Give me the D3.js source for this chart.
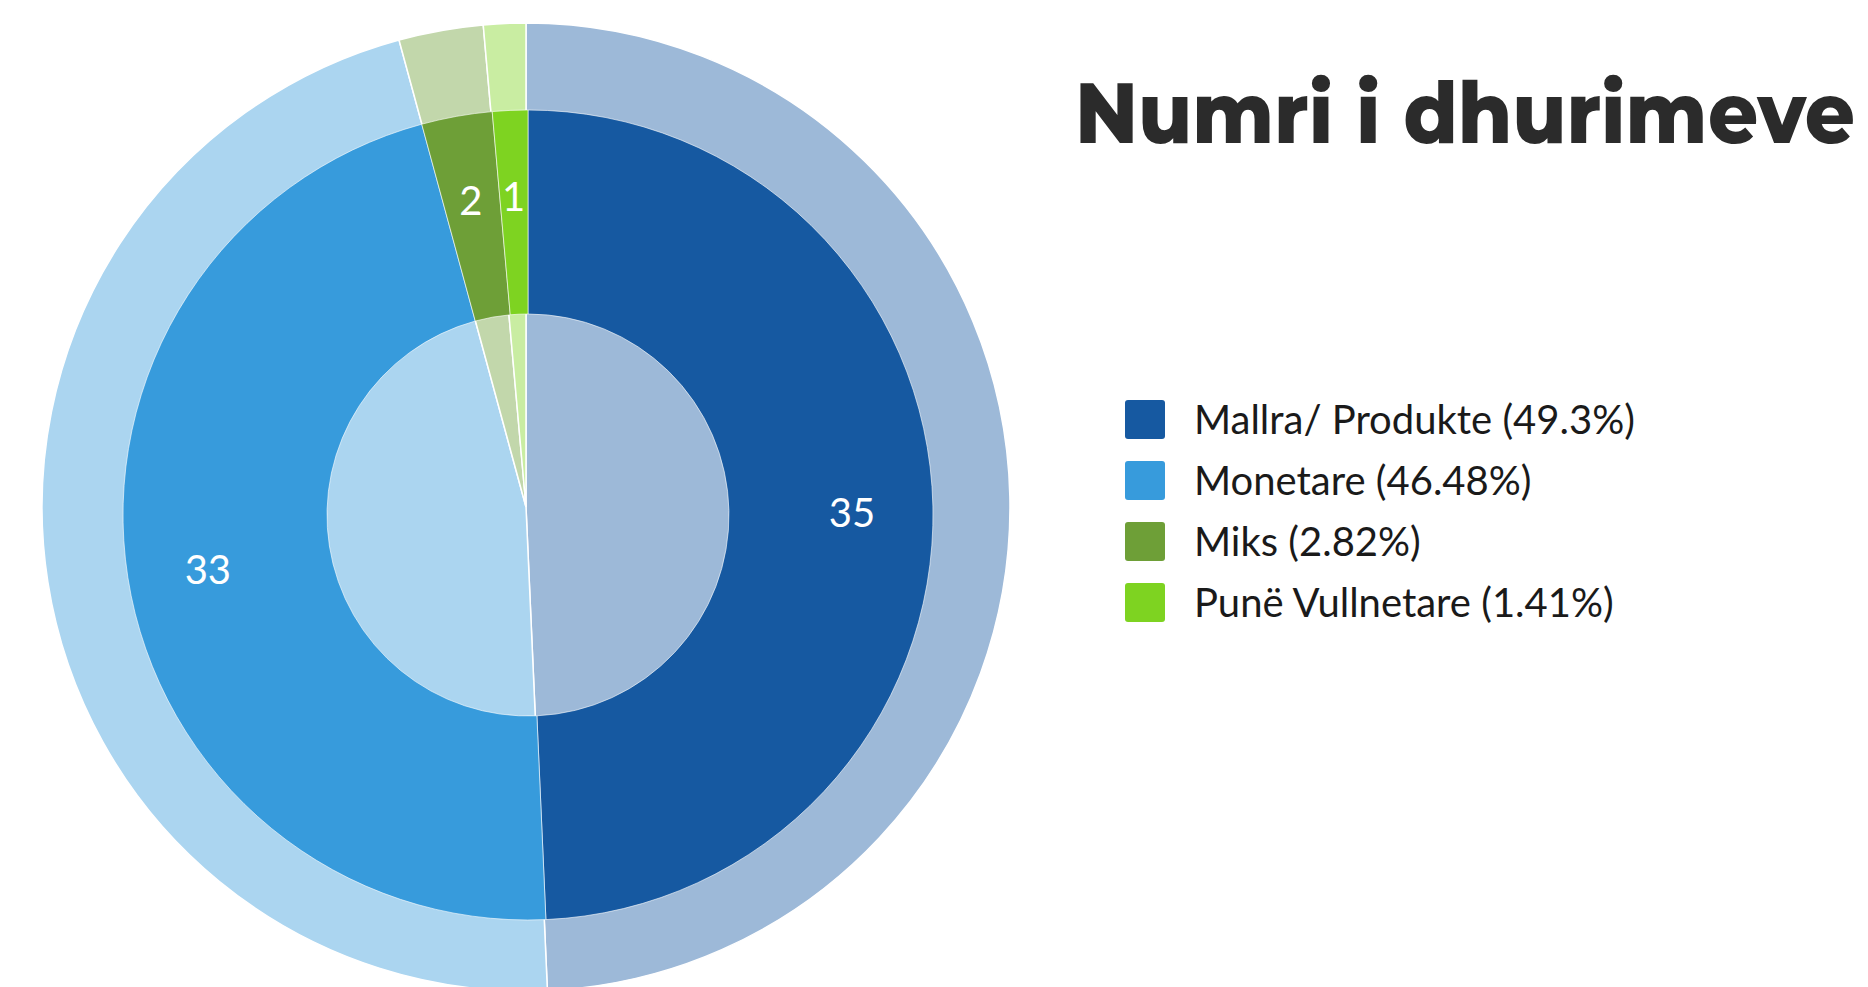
<!DOCTYPE html>
<html>
<head>
<meta charset="utf-8">
<script src="https://cdn.jsdelivr.net/npm/d3@7"></script>
<style>
  html, body { margin: 0; padding: 0; background: #fff; overflow: hidden; }
  svg { display: block; }
</style>
</head>
<body>
<div id="chart"></div>
<script>
// Data
const categories = ['Mallra/ Produkte', 'Monetare', 'Miks', 'Punë Vullnetare'];
const values = [35, 33, 2, 1];
const colors = ['#1659a1', '#379bdc', '#6e9f37', '#7ed321'];
const title = 'Numri i dhurimeve';

const width = 1868;
const height = 987;

const svg = d3.select('#chart').append('svg')
    .attr('width', width)
    .attr('height', height);

const total = d3.sum(values);
const pie = d3.pie().sort(null).value(d => d.value);
const slices = pie(categories.map((c, i) => ({ name: c, value: values[i], color: colors[i] })));

// Faded background pie (slightly offset)
const bg = svg.append('g').attr('transform', 'translate(526,507)');
const bgArc = d3.arc().innerRadius(0).outerRadius(484);
bg.selectAll('path')
    .data(slices)
    .join('path')
    .attr('d', bgArc)
    .attr('fill', d => d.data.color)
    .attr('fill-opacity', 0.42)
    .attr('stroke', '#fff')
    .attr('stroke-width', 1.5);

// Main donut
const donut = svg.append('g').attr('transform', 'translate(528,515)');
const arc = d3.arc().innerRadius(201).outerRadius(405);
donut.selectAll('path')
    .data(slices)
    .join('path')
    .attr('d', arc)
    .attr('fill', d => d.data.color)
    .attr('stroke', 'rgba(255,255,255,0.6)')
    .attr('stroke-width', 1);

// Value labels
const labelArc = d3.arc().innerRadius(324).outerRadius(324);
donut.selectAll('text')
    .data(slices)
    .join('text')
    .attr('transform', d => `translate(${labelArc.centroid(d)})`)
    .attr('text-anchor', 'middle')
    .attr('dy', '0.48em')
    .style('font-family', 'Lato, sans-serif')
    .style('font-size', '40px')
    .style('fill', '#fff')
    .text(d => d.data.value);

// Title
const titleText = svg.append('text')
    .attr('x', 0)
    .attr('y', 0)
    .attr('transform', 'translate(1075,143) scale(1,1.08)')
    .style('font-family', 'Montserrat, Inter, sans-serif')
    .style('font-weight', 800)
    .style('font-size', '84px')
    .style('fill', '#2b2b2b')
    .text(title);
const tw = titleText.node().getComputedTextLength();
titleText.style('font-size', (84 * 780 / tw) + 'px');

// Legend
const legend = svg.append('g').attr('transform', 'translate(1125,400)');
const rows = legend.selectAll('g')
    .data(slices)
    .join('g')
    .attr('transform', (d, i) => `translate(0,${i * 61})`);

rows.append('rect')
    .attr('width', 40)
    .attr('height', 39)
    .attr('rx', 3)
    .attr('fill', d => d.data.color);

rows.append('text')
    .attr('x', 69)
    .attr('y', 20)
    .attr('dy', '0.35em')
    .style('font-family', 'Lato, sans-serif')
    .style('font-size', '40px')
    .style('fill', '#1a1a1a')
    .text(d => `${d.data.name} (${+(d.data.value / total * 100).toFixed(2)}%)`);
</script>
</body>
</html>
